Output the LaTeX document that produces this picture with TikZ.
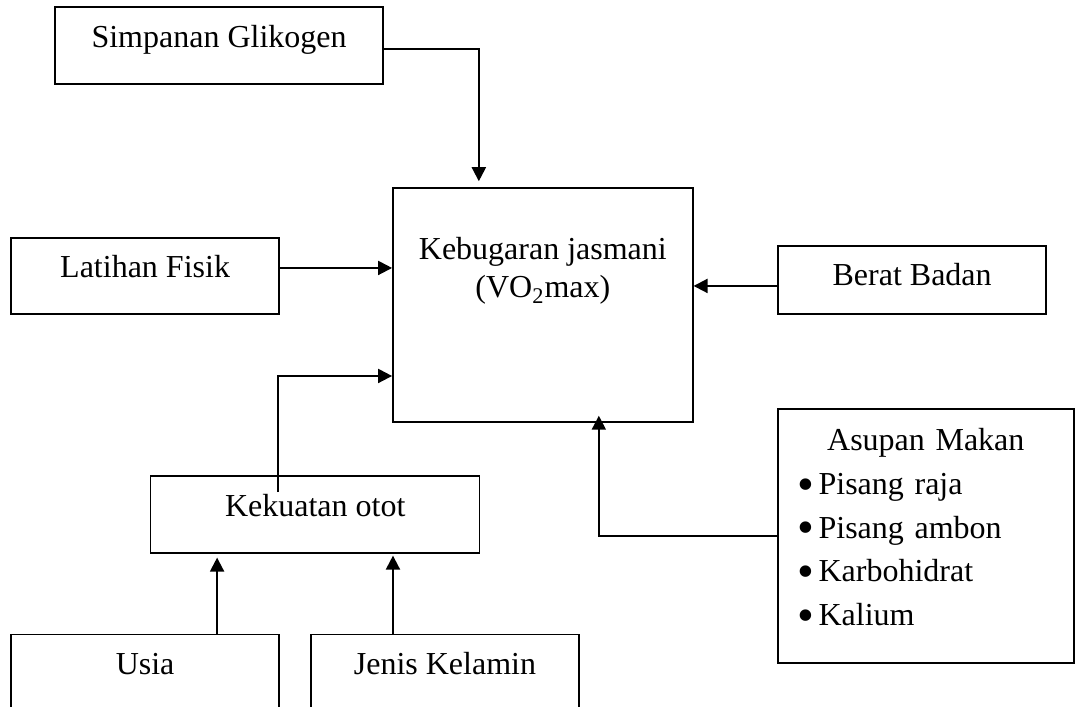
\documentclass[tikz,border=0pt]{standalone}
\usepackage{fontspec}
\setmainfont{Liberation Serif}
\usetikzlibrary{arrows.meta}
\newcommand{\itm}{\raisebox{-3pt}{\fontsize{24}{24}\selectfont\textbullet}\hspace{2pt}}

\begin{document}
\begin{tikzpicture}[
  >={Triangle[length=7pt,width=7pt]},
  factor/.style={draw,line width=.75pt,inner sep=2pt,text height=12pt,
    font=\fontsize{16}{19}\selectfont},
  link/.style={->,line width=1pt}
]
  \useasboundingbox (0,0) rectangle (18.91,12.42);

  \node[factor,minimum width=164pt,minimum height=38.5pt,text depth=10.5pt]
    (simpanan) at (3.85,11.62) {Simpanan Glikogen};
  \node[factor,minimum width=134pt,minimum height=38pt,text depth=10pt]
    (latihan) at (2.55,7.57) {Latihan Fisik};
  \node[factor,align=center,minimum width=150pt,minimum height=117pt,text depth=19pt]
    (kebugaran) at (9.54,7.06) {Kebugaran jasmani\\(VO\textsubscript{2}max)};
  \node[factor,minimum width=134pt,minimum height=34pt,text depth=6pt]
    (berat) at (16.03,7.50) {Berat Badan};
  \node[factor,text width=128pt,inner xsep=10pt,minimum height=127pt,
    font=\fontsize{16}{22}\selectfont,text depth=98pt]
    (asupan) at (16.27,3.00) {\makebox[\linewidth][c]{Asupan Makan}\\
      \itm Pisang raja\\ \itm Pisang ambon\\ \itm Karbohidrat\\ \itm Kalium};
  \node[factor,minimum width=164.5pt,minimum height=38.5pt,text depth=9.5pt]
    (kekuatan) at (5.54,3.38) {Kekuatan otot};
  \node[factor,minimum width=134pt,minimum height=38.5pt,text depth=10.5pt]
    (usia) at (2.55,0.59) {Usia};
  \node[factor,minimum width=134pt,minimum height=38.5pt,text depth=10.5pt]
    (jenis) at (7.82,0.59) {Jenis Kelamin};

  % connectors into the central box
  \coordinate (sg) at ([yshift=-1.75pt]simpanan.east);
  \coordinate (sgin) at ([xshift=-32pt]kebugaran.north);
  \draw[link,shorten >=3pt] (sg) -| (sgin);

  \coordinate (lf) at ([yshift=4pt]latihan.east);
  \draw[link] (lf) -- (lf -| kebugaran.west);

  \coordinate (bb) at ([yshift=-3pt]berat.west);
  \draw[link] (bb) -- (bb -| kebugaran.east);

  \coordinate (ko) at ([xshift=-18.75pt,yshift=-8.5pt]kekuatan.north);
  \coordinate (koin) at ([yshift=-35.5pt]kebugaran.west);
  \draw[link] (ko) |- (koin);

  \coordinate (am) at ([xshift=28pt]kebugaran.south);
  \draw[link,shorten >=-3.5pt] (asupan.west) -| (am);

  % connectors into Kekuatan otot
  \coordinate (us) at ([xshift=36pt]usia.north);
  \draw[link,shorten >=2pt] (us) -- (us |- kekuatan.south);
  \coordinate (jk) at ([xshift=-26pt]jenis.north);
  \draw[link,shorten >=1pt] (jk) -- (jk |- kekuatan.south);
\end{tikzpicture}
\end{document}
